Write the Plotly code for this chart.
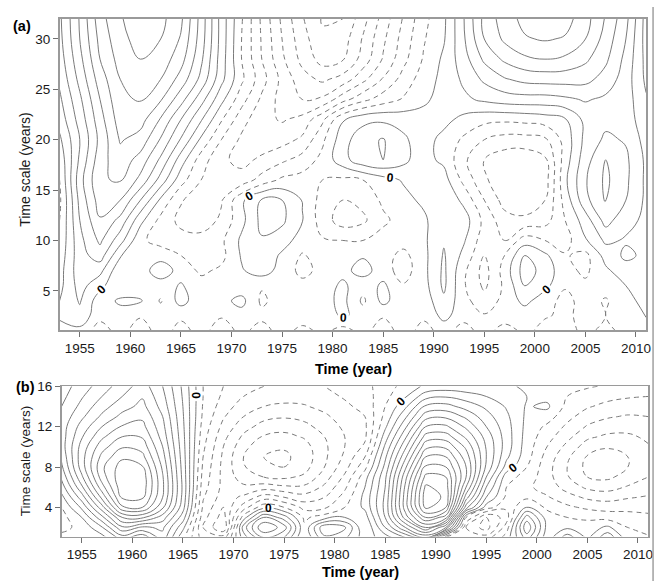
import plotly.graph_objects as go

# ---------------- data ----------------
years = [1953, 1955, 1957, 1959, 1961, 1963, 1965, 1967, 1969, 1971,
         1973, 1975, 1977, 1979, 1981, 1983, 1985, 1987, 1989, 1991,
         1993, 1995, 1997, 1999, 2001, 2003, 2005, 2007, 2009, 2011]

x_ticks = [1955, 1960, 1965, 1970, 1975, 1980, 1985, 1990, 1995, 2000, 2005, 2010]

# panel (a): time scales (rows) and wavelet coefficients (contour units)
scales_a = [1, 2.5, 4, 5.5, 7, 8.5, 10, 12, 14, 16, 18, 20, 22, 24, 26, 28, 30, 32]
a_s1 = [-0.5, -0.3, -1.5, -0.6, -1.6, -0.5, -1.4, -0.6, -1.6, -0.7, -1.5, -0.5, -1.4, -0.7, -1.5, -0.6, -1.6, -0.5, -1.4, -0.6, -1.5, -0.5, -1.6, -0.7, -1.4, -1.6, -0.6, -1.5, -0.5, -0.9]
a_s2_5 = [0.2, 0.7, -0.7, -0.5, -0.9, -0.4, -0.8, -0.3, -0.9, -0.4, -0.7, -1.0, -0.3, -0.8, 0.2, -0.5, -0.9, -0.4, -0.8, 0.3, -0.6, -0.9, -0.3, -0.6, -0.9, -1.2, -0.7, -1.0, -0.6, 0.1]
a_s4 = [0.0, 1.1, -0.6, 0.2, 0.1, -1.1, 0.4, -0.7, -0.3, 0.3, -1.2, -0.5, -0.6, -0.4, 0.3, -1.2, 0.3, -0.7, -0.6, 0.8, -0.7, -1.6, -0.7, 0.3, -0.6, -1.3, -0.6, -1.1, -0.4, 0.4]
a_s5_5 = [-0.3, 1.4, 0.3, -0.9, -0.7, -0.5, 0.1, -0.6, -0.4, -0.6, -0.9, -0.3, -0.7, -0.5, 0.2, -0.6, 0.2, -0.9, -0.4, 1.2, -0.9, -2.2, -0.8, 1.0, 0.3, -0.9, -0.8, -0.6, 0.0, 0.6]
a_s7 = [-0.4, 1.6, 1.3, -0.8, -0.5, 0.6, -0.4, -1.2, -0.8, -0.1, 0.5, -0.4, -1.3, -0.7, -0.3, 0.4, -0.5, -1.5, -0.3, 1.2, -0.8, -2.4, -0.6, 1.5, 0.6, -0.7, -1.2, -0.2, 0.6, 0.7]
a_s8_5 = [-0.6, 1.6, 2.5, 0.1, -1.0, -0.4, -1.0, -1.6, -1.3, 0.1, 0.8, -0.2, -1.1, -0.6, -0.4, -0.1, -0.6, -1.3, -0.3, 1.1, -0.3, -2.0, -1.0, 1.0, 0.2, -0.9, -1.3, 0.4, 1.2, 0.8]
a_s10 = [-0.8, 1.7, 3.2, 1.4, -0.8, -1.4, -1.6, -1.6, -1.2, 0.2, 0.9, 0.5, -0.5, -0.9, -1.0, -1.0, -0.6, -0.6, -0.2, 0.9, 0.1, -1.6, -2.0, -0.5, -1.0, -1.4, -0.1, 1.2, 0.9, 0.8]
a_s12 = [-1.0, 2.0, 3.9, 2.7, 0.3, -1.3, -2.3, -2.6, -1.8, -0.3, 1.3, 1.2, 0.05, -1.5, -2.5, -2.2, -1.2, -0.6, -0.2, 0.8, 0.5, -1.3, -2.6, -2.8, -2.4, -1.0, 0.5, 2.4, 1.3, 0.8]
a_s14 = [-1.2, 2.3, 4.5, 4.0, 2.0, -0.2, -1.9, -2.6, -2.1, -0.2, 1.1, 1.0, -0.05, -1.4, -2.0, -1.7, -0.8, -0.3, 0.2, 0.9, -0.3, -2.0, -3.4, -3.6, -3.0, -0.6, 1.7, 3.1, 2.0, 0.8]
a_s16 = [-1.0, 2.6, 4.9, 5.1, 3.7, 1.6, -0.6, -2.0, -2.7, -2.6, -1.6, -0.8, -0.6, -1.0, -1.2, -1.0, -0.4, 0.1, 0.9, 0.4, -1.3, -2.8, -3.8, -4.0, -3.5, -0.2, 1.9, 3.2, 2.2, 0.8]
a_s18 = [-0.7, 2.2, 4.6, 5.6, 4.6, 2.8, 0.5, -1.5, -2.8, -3.3, -2.8, -2.2, -1.6, -0.7, 0.6, 1.7, 2.0, 1.3, 0.3, -0.2, -1.8, -3.0, -3.6, -3.7, -3.2, -0.5, 1.6, 3.0, 2.2, 0.8]
a_s20 = [-0.2, 2.0, 4.3, 6.1, 5.6, 3.9, 1.9, -0.2, -2.0, -3.2, -3.6, -3.4, -2.8, -1.2, 0.6, 1.6, 2.1, 1.2, 0.4, -0.3, -1.2, -2.0, -2.4, -2.4, -2.2, -0.6, 1.3, 2.2, 1.9, 0.6]
a_s22 = [0.4, 2.4, 4.6, 6.5, 6.4, 4.9, 3.0, 1.1, -0.9, -2.6, -3.7, -4.1, -3.7, -2.2, -0.1, 0.7, 0.8, 0.6, 0.4, 0.3, -0.3, -0.7, -0.8, -0.7, -0.5, -0.1, 1.3, 1.7, 1.5, 0.4]
a_s24 = [0.8, 2.8, 5.0, 6.8, 7.1, 6.1, 4.4, 2.4, 0.3, -1.6, -3.2, -4.4, -5.0, -4.8, -3.4, -2.3, -1.5, -0.9, -0.2, 0.4, 0.8, 1.2, 1.5, 1.6, 1.6, 1.8, 2.1, 1.8, 1.5, 0.1]
a_s26 = [1.2, 3.3, 5.5, 7.0, 7.5, 7.0, 5.6, 3.7, 1.3, -0.8, -2.6, -4.3, -5.6, -6.2, -5.6, -4.3, -2.9, -1.6, -0.5, 0.3, 1.2, 2.2, 2.9, 3.3, 3.4, 3.4, 3.3, 2.6, 1.5, -0.2]
a_s28 = [1.5, 3.7, 6.0, 7.4, 8.0, 7.6, 6.4, 4.2, 1.5, -1.0, -3.0, -4.8, -6.3, -7.4, -7.1, -5.6, -3.9, -2.3, -0.9, 0.2, 1.6, 3.2, 4.2, 4.8, 5.0, 4.8, 4.2, 3.2, 1.7, -0.3]
a_s30 = [1.7, 4.0, 6.3, 7.7, 8.4, 8.0, 6.9, 4.5, 1.6, -1.0, -3.1, -5.0, -6.6, -7.8, -7.5, -5.9, -4.2, -2.6, -1.1, -0.1, 1.9, 4.0, 5.2, 5.9, 6.1, 5.9, 5.0, 3.6, 2.0, -0.4]
a_s32 = [1.8, 4.1, 6.6, 7.9, 8.6, 8.3, 7.2, 4.6, 1.6, -0.9, -3.2, -5.2, -6.9, -8.1, -8.0, -6.4, -4.6, -2.9, -1.3, -0.2, 2.0, 4.3, 5.5, 6.3, 6.6, 6.4, 5.4, 3.9, 2.3, -0.4]

# panel (b)
scales_b = [1, 2, 3, 4, 5, 6, 7, 8, 9, 10, 11, 12, 13, 14, 15, 16]
b_s1 = [-0.8, -0.9, -0.4, 1.5, 0.2, 2.6, -0.8, -3.5, -3.5, 0.5, 3.0, 2.0, -1.0, 1.8, 1.2, -0.5, 0.5, 2.0, 4.0, -2.0, -2.0, -2.5, -0.5, 2.5, -0.6, 1.6, -0.2, 1.8, -0.6, -0.9]
b_s2 = [-1.2, -0.8, 0.9, 3.8, 2.8, 3.2, 0.3, -4.0, -6.0, 1.5, 5.0, 3.5, -0.8, 2.8, 2.2, -1.0, 2.0, 5.0, 8.0, 5.0, -3.0, -4.5, -1.5, 3.8, -0.3, -0.2, -0.5, 0.2, -1.0, -1.3]
b_s3 = [-1.4, 0.0, 2.7, 6.0, 6.2, 4.5, 1.5, -3.6, -5.5, -0.5, 3.0, 1.5, -1.2, -0.5, 0.0, -0.5, 3.0, 7.5, 11.0, 9.5, -1.0, -4.0, -2.5, 2.5, -0.5, -1.0, -1.2, -1.4, -1.6, -1.8]
b_s4 = [-1.0, 1.2, 4.6, 8.8, 9.0, 6.2, 2.4, -3.2, -5.0, -2.5, -0.3, -1.0, -2.3, -2.2, -1.0, 0.2, 3.3, 8.5, 13.3, 12.0, 3.5, -0.5, -1.8, 0.0, -1.2, -1.8, -2.2, -2.4, -2.3, -2.3]
b_s5 = [-0.3, 2.5, 6.3, 10.2, 10.2, 7.0, 2.7, -2.9, -4.5, -3.8, -2.5, -3.0, -3.6, -3.0, -1.6, 0.3, 3.2, 8.5, 13.6, 12.8, 5.5, 1.0, -1.2, -1.2, -1.9, -2.6, -3.2, -3.4, -3.1, -2.9]
b_s6 = [0.5, 3.8, 7.6, 10.7, 10.6, 7.2, 2.8, -2.6, -4.3, -4.8, -4.5, -4.8, -4.8, -3.8, -2.2, 0.0, 3.0, 8.2, 13.2, 12.5, 7.0, 2.0, -1.0, -1.8, -2.4, -3.4, -4.2, -4.4, -3.9, -3.5]
b_s7 = [1.2, 4.8, 8.5, 10.8, 10.6, 7.1, 2.7, -2.4, -4.3, -5.5, -6.0, -6.2, -5.8, -4.5, -2.8, -0.4, 2.8, 7.7, 12.3, 12.0, 8.0, 3.0, -0.6, -1.4, -2.6, -3.9, -5.0, -5.2, -4.6, -4.0]
b_s8 = [1.8, 5.5, 8.8, 10.5, 10.1, 6.8, 2.6, -2.2, -4.3, -5.9, -6.8, -7.0, -6.4, -5.0, -3.4, -1.3, 2.3, 6.8, 11.2, 11.0, 8.0, 3.8, 0.6, -1.0, -2.6, -4.0, -5.3, -5.6, -5.0, -4.3]
b_s9 = [2.2, 5.6, 8.3, 9.8, 9.3, 6.4, 2.5, -2.0, -4.2, -6.0, -7.0, -7.2, -6.6, -5.2, -3.8, -2.0, 1.8, 5.8, 10.0, 10.0, 7.5, 4.0, 1.2, -0.6, -2.4, -3.8, -5.1, -5.5, -5.0, -4.3]
b_s10 = [2.5, 5.4, 7.6, 8.9, 8.6, 6.0, 2.4, -1.8, -4.0, -5.7, -6.7, -6.9, -6.4, -5.2, -4.0, -2.8, 1.2, 4.8, 8.7, 8.8, 6.8, 3.9, 1.5, -0.5, -2.0, -3.3, -4.5, -4.9, -4.7, -4.1]
b_s11 = [2.5, 4.9, 6.8, 8.0, 7.9, 5.6, 2.3, -1.6, -3.7, -5.2, -6.1, -6.3, -5.9, -5.0, -4.0, -3.2, 0.5, 3.8, 7.4, 7.5, 5.8, 3.6, 1.5, -0.4, -1.6, -2.7, -3.8, -4.2, -4.2, -3.8]
b_s12 = [2.5, 4.4, 6.0, 7.1, 7.3, 5.3, 2.2, -1.4, -3.3, -4.6, -5.4, -5.6, -5.3, -4.6, -3.8, -3.2, -0.2, 2.8, 6.0, 6.2, 4.8, 3.0, 1.4, -0.3, -1.2, -2.2, -3.1, -3.5, -3.6, -3.4]
b_s13 = [2.3, 3.8, 5.2, 6.3, 6.8, 5.0, 2.1, -1.2, -2.9, -4.0, -4.7, -4.9, -4.7, -4.2, -3.5, -3.0, -0.7, 1.8, 4.6, 4.8, 3.8, 2.4, 1.2, -0.2, -0.5, -1.7, -2.5, -2.9, -3.1, -3.0]
b_s14 = [2.0, 3.3, 4.6, 5.6, 6.3, 4.6, 2.0, -1.1, -2.5, -3.5, -4.0, -4.2, -4.1, -3.7, -3.2, -2.7, -1.0, 0.8, 3.2, 3.4, 2.6, 1.8, 0.9, -0.1, 0.2, -1.3, -1.9, -2.3, -2.5, -2.5]
b_s15 = [1.7, 2.9, 4.0, 5.0, 5.9, 4.3, 1.9, -1.0, -2.2, -3.0, -3.4, -3.6, -3.6, -3.3, -2.9, -2.5, -1.3, -0.1, 1.6, 1.9, 1.5, 1.0, 0.6, 0.0, -0.3, -1.0, -1.4, -1.7, -1.9, -2.0]
b_s16 = [1.5, 2.5, 3.5, 4.5, 5.5, 4.0, 1.8, -1.0, -2.0, -2.6, -3.0, -3.2, -3.2, -3.0, -2.7, -2.3, -1.5, -0.6, 0.2, 0.4, 0.3, 0.3, 0.2, -0.2, -0.3, -0.6, -0.9, -1.1, -1.3, -1.5]

ticks_a = [5, 10, 15, 20, 25, 30]
ticks_b = [4, 8, 12, 16]

# ---------------- figure ----------------
z_a = [a_s1, a_s2_5, a_s4, a_s5_5, a_s7, a_s8_5, a_s10, a_s12, a_s14, a_s16,
       a_s18, a_s20, a_s22, a_s24, a_s26, a_s28, a_s30, a_s32]
z_b = [b_s1, b_s2, b_s3, b_s4, b_s5, b_s6, b_s7, b_s8, b_s9, b_s10,
       b_s11, b_s12, b_s13, b_s14, b_s15, b_s16]

LINE = '#7a7a7a'
FONT = 'Arial, Liberation Sans, Helvetica, sans-serif'

fig = go.Figure()


def add_panel(z, scales, xa, ya):
    common = dict(x=years, y=scales, z=z, showscale=False, hoverinfo='skip',
                  autocontour=False, xaxis=xa, yaxis=ya)
    fig.add_trace(go.Contour(
        **common,
        contours=dict(start=-20, end=-1, size=1, coloring='none'),
        line=dict(color=LINE, width=1, dash='5px,4px', smoothing=1.2)))
    fig.add_trace(go.Contour(
        **common,
        contours=dict(start=1, end=20, size=1, coloring='none'),
        line=dict(color=LINE, width=1, smoothing=1.2)))
    fig.add_trace(go.Contour(
        **common,
        contours=dict(start=0, end=0, size=1, coloring='none', showlabels=True,
                      labelfont=dict(size=12, color='black', family=FONT, weight='bold')),
        line=dict(color=LINE, width=1, smoothing=1.2)))


add_panel(z_a, scales_a, 'x', 'y')
add_panel(z_b, scales_b, 'x2', 'y2')

W, H = 666, 581
axis_common = dict(showgrid=False, zeroline=False, showline=True, mirror=True,
                   linecolor='#9a9a9a', linewidth=1.5, ticks='outside', ticklen=5,
                   tickcolor='#707070', tickwidth=1,
                   tickfont=dict(family=FONT, size=13.5, color='#1a1a1a'))

fig.update_layout(
    width=W, height=H,
    margin=dict(l=0, r=0, t=0, b=0),
    paper_bgcolor='white', plot_bgcolor='white',
    showlegend=False,
    xaxis=dict(axis_common, domain=[60 / W, 651 / W], range=[1953, 2011],
               tickvals=x_ticks, anchor='y'),
    yaxis=dict(axis_common, domain=[1 - 327 / H, 1 - 12 / H], range=[1.1, 32],
               tickvals=ticks_a, anchor='x'),
    xaxis2=dict(axis_common, domain=[62 / W, 653 / W], range=[1953, 2011],
                tickvals=x_ticks, anchor='y2'),
    yaxis2=dict(axis_common, domain=[1 - 536 / H, 1 - 384 / H], range=[1.1, 16],
                tickvals=ticks_b, anchor='x2'),
)

ann = []
ann.append(dict(text='<b>(a)</b>', x=22 / W, y=1 - 19 / H))
ann.append(dict(text='<b>(b)</b>', x=26 / W, y=1 - 385 / H))
ann.append(dict(text='<b>Time (year)</b>', x=356 / W, y=1 - 366 / H))
ann.append(dict(text='<b>Time (year)</b>', x=363 / W, y=1 - 572 / H))
for a in ann:
    a.update(xref='paper', yref='paper', showarrow=False, xanchor='center', yanchor='middle',
             font=dict(family=FONT, size=14.5, color='black'))
ann.append(dict(text='Time scale (years)', x=25 / W, y=1 - 164 / H, textangle=-90,
                xref='paper', yref='paper', showarrow=False, xanchor='center', yanchor='middle',
                font=dict(family=FONT, size=14, color='#1a1a1a')))
ann.append(dict(text='Time scale (years)', x=26 / W, y=1 - 459 / H, textangle=-90,
                xref='paper', yref='paper', showarrow=False, xanchor='center', yanchor='middle',
                font=dict(family=FONT, size=13.5, color='#1a1a1a')))
fig.update_layout(annotations=ann)

fig.add_shape(type='line', xref='paper', yref='paper', x0=658 / W, x1=658 / W, y0=0, y1=1,
              line=dict(color='#a0a0a0', width=1.5))

fig.write_html('out.html',
               config={'displayModeBar': False, 'staticPlot': True},
               post_script="document.body.style.margin='0';document.body.style.overflow='hidden';")
